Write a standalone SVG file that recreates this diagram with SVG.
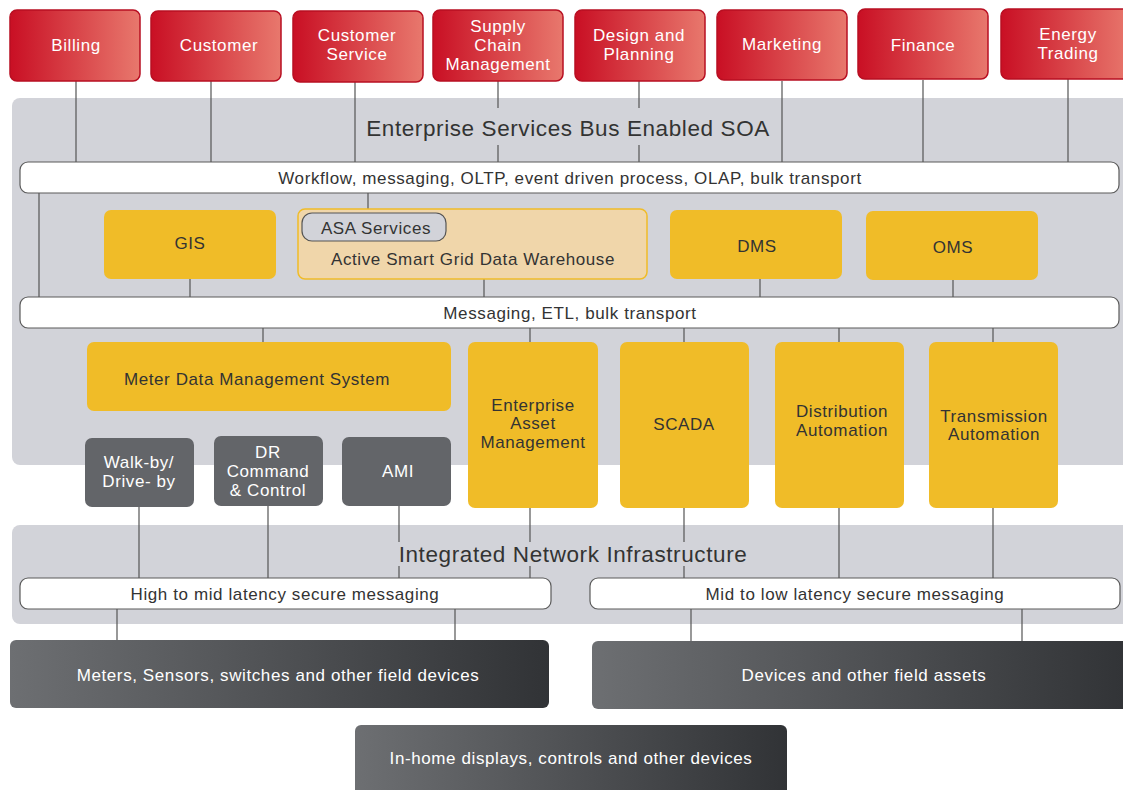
<svg xmlns="http://www.w3.org/2000/svg" width="1123" height="790" viewBox="0 0 1123 790">
<style>
text{font-family:"Liberation Sans",Arial,sans-serif;text-anchor:middle;dominant-baseline:central;letter-spacing:0.6px}
.red{fill:url(#gRed);stroke:#b80f22;stroke-width:1.5}
.wt{fill:#fff;font-size:17px}
.panel{fill:#d2d3d9}
.title{fill:#333;font-size:22.5px}
.bar{fill:#fff;stroke:#5a5a5a;stroke-width:1.2}
.bt{fill:#333;font-size:17px}
.yel{fill:#f0bc28}
.dk{fill:#636569}
.dkg{fill:url(#gDark)}
.ln{stroke:#555;stroke-width:1.2;fill:none}
</style>
<defs>
<linearGradient id="gRed" x1="0" y1="0" x2="1" y2="0">
<stop offset="0" stop-color="#c90f24"/><stop offset="1" stop-color="#e8786d"/>
</linearGradient>
<linearGradient id="gDark" x1="0" y1="0" x2="1" y2="0">
<stop offset="0" stop-color="#6d6f72"/><stop offset="1" stop-color="#313336"/>
</linearGradient>
</defs>
<rect width="1123" height="790" fill="#fff"/>
<g id="panel-esb"><rect class="panel" x="12" y="98" width="1125" height="367" rx="8"/>
<text class="title" x="568" y="128">Enterprise Services Bus Enabled SOA</text></g>
<g id="panel-ini"><rect class="panel" x="12" y="525" width="1125" height="99" rx="8"/>
<text class="title" x="573" y="554">Integrated Network Infrastructure</text></g>

<g id="connectors">
<path class="ln" d="M76 81V162M211 81V162M355 82V162M498 81V108M498 145V162M639 81V108M639 145V162M782 81V162M923 80V162M1068 79V162"/>
<path class="ln" d="M39 193V297M368 193V213M190 279V297M484 279V297M760 279V297M953 280V297"/>
<path class="ln" d="M263 328V342M530 328V342M684 328V342M839 328V342M993 328V342"/>
<path class="ln" d="M139 507V578M268 506V578M399 506V542M399 566V578M530 508V542M530 566V578M684 508V542M684 566V578M839 508V578M993 508V578"/>
<path class="ln" d="M117 609V640M455 609V640M691 609V641M1022 609V641"/>
</g>

<g id="billing"><rect class="red" x="10" y="10" width="130" height="71" rx="7"/><text class="wt" x="76" y="45">Billing</text></g>
<g id="customer"><rect class="red" x="151" y="11" width="130" height="70" rx="7"/><text class="wt" x="219" y="45">Customer</text></g>
<g id="customer-service"><rect class="red" x="293" y="11" width="130" height="71" rx="7"/><text class="wt" x="357" y="35">Customer</text><text class="wt" x="357" y="54">Service</text></g>
<g id="supply-chain"><rect class="red" x="433" y="10" width="130" height="71" rx="7"/><text class="wt" x="498" y="26">Supply</text><text class="wt" x="498" y="45">Chain</text><text class="wt" x="498" y="64">Management</text></g>
<g id="design-planning"><rect class="red" x="575" y="10" width="130" height="71" rx="7"/><text class="wt" x="639" y="35">Design and</text><text class="wt" x="639" y="54">Planning</text></g>
<g id="marketing"><rect class="red" x="717" y="10" width="130" height="70" rx="7"/><text class="wt" x="782" y="44">Marketing</text></g>
<g id="finance"><rect class="red" x="858" y="9" width="130" height="70" rx="7"/><text class="wt" x="923" y="45">Finance</text></g>
<g id="energy-trading"><rect class="red" x="1001" y="9" width="130" height="70" rx="7"/><text class="wt" x="1068" y="34">Energy</text><text class="wt" x="1068" y="53">Trading</text></g>

<g id="workflow-bar"><rect class="bar" x="20" y="162" width="1099" height="31" rx="8"/><text class="bt" x="570" y="178">Workflow, messaging, OLTP, event driven process, OLAP, bulk transport</text></g>

<g id="gis"><rect class="yel" x="104" y="210" width="172" height="69" rx="7"/><text class="bt" x="190" y="243">GIS</text></g>
<g id="asgdw"><rect x="298" y="209" width="349" height="70" rx="7" fill="#f0d6aa" stroke="#f0bc28" stroke-width="1.5"/>
<text class="bt" x="473" y="259">Active Smart Grid Data Warehouse</text></g>
<g id="asa-services"><rect x="302" y="213" width="144" height="28" rx="10" fill="#d2d3d9" stroke="#555" stroke-width="1.2"/><text class="bt" x="376" y="228">ASA Services</text></g>
<g id="dms"><rect class="yel" x="670" y="210" width="172" height="69" rx="7"/><text class="bt" x="757" y="246">DMS</text></g>
<g id="oms"><rect class="yel" x="866" y="211" width="172" height="69" rx="7"/><text class="bt" x="953" y="247">OMS</text></g>

<g id="messaging-bar"><rect class="bar" x="20" y="297" width="1099" height="31" rx="8"/><text class="bt" x="570" y="313">Messaging, ETL, bulk transport</text></g>

<g id="mdms"><rect class="yel" x="87" y="342" width="364" height="69" rx="7"/><text class="bt" x="257" y="379">Meter Data Management System</text></g>
<g id="eam"><rect class="yel" x="468" y="342" width="130" height="166" rx="7"/><text class="bt" x="533" y="405">Enterprise</text><text class="bt" x="533" y="423">Asset</text><text class="bt" x="533" y="442">Management</text></g>
<g id="scada"><rect class="yel" x="620" y="342" width="129" height="166" rx="7"/><text class="bt" x="684" y="424">SCADA</text></g>
<g id="dist-auto"><rect class="yel" x="775" y="342" width="129" height="166" rx="7"/><text class="bt" x="842" y="411">Distribution</text><text class="bt" x="842" y="430">Automation</text></g>
<g id="trans-auto"><rect class="yel" x="929" y="342" width="129" height="166" rx="7"/><text class="bt" x="994" y="416">Transmission</text><text class="bt" x="994" y="434">Automation</text></g>

<g id="walk-by"><rect class="dk" x="85" y="438" width="109" height="69" rx="7"/><text class="wt" x="139" y="462">Walk-by/</text><text class="wt" x="139" y="481">Drive- by</text></g>
<g id="dr-command"><rect class="dk" x="214" y="436" width="109" height="70" rx="7"/><text class="wt" x="268" y="452">DR</text><text class="wt" x="268" y="471">Command</text><text class="wt" x="268" y="490">&amp; Control</text></g>
<g id="ami"><rect class="dk" x="342" y="437" width="109" height="69" rx="7"/><text class="wt" x="398" y="471">AMI</text></g>

<g id="high-mid-bar"><rect class="bar" x="20" y="578" width="531" height="31" rx="8"/><text class="bt" x="285" y="594">High to mid latency secure messaging</text></g>
<g id="mid-low-bar"><rect class="bar" x="590" y="578" width="530" height="31" rx="8"/><text class="bt" x="855" y="594">Mid to low latency secure messaging</text></g>

<g id="meters"><rect class="dkg" x="10" y="640" width="539" height="68" rx="6"/><text class="wt" x="278" y="675">Meters, Sensors, switches and other field devices</text></g>
<g id="devices"><rect class="dkg" x="592" y="641" width="540" height="68" rx="6"/><text class="wt" x="864" y="675">Devices and other field assets</text></g>
<g id="in-home"><rect class="dkg" x="355" y="725" width="432" height="72" rx="6"/><text class="wt" x="571" y="758">In-home displays, controls and other devices</text></g>
</svg>
